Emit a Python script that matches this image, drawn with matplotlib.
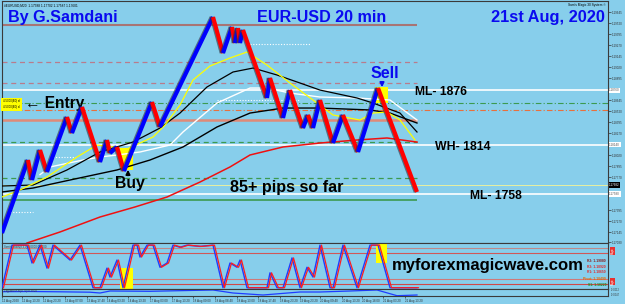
import matplotlib.pyplot as plt
import matplotlib.patheffects as pe
from matplotlib.patches import Rectangle

plt.rcParams['font.family'] = ['Liberation Sans', 'DejaVu Sans']

W, H = 625, 304
BG = '#87CEEB'
TXT_BLUE = '#0A0AF0'

# renko path turning points (bar, price)
zz_bar = [2, 28, 32, 40, 47, 67, 72, 82, 100, 107, 110, 117, 124, 152, 160, 213, 223, 232, 235, 238,
          240, 243, 267, 270, 283, 290, 303, 308, 313, 320, 333, 343, 358, 378, 417]
zz_price = [1.17137, 1.17966, 1.17739, 1.18080, 1.17830, 1.18454, 1.18272, 1.18568, 1.17943, 1.18193,
            1.18045, 1.18114, 1.17841, 1.18624, 1.18341, 1.19589, 1.19180, 1.19476, 1.19294, 1.19464,
            1.19294, 1.19442, 1.18670, 1.18897, 1.18443, 1.18760, 1.18329, 1.18477, 1.18329, 1.18647,
            1.18159, 1.18477, 1.18057, 1.18783, 1.17603]

# moving averages
yellow_bar = [2, 20, 47, 77, 97, 113, 125, 140, 153, 165, 180, 193, 210, 230, 247, 267, 290, 313, 333, 360,
              373, 387, 400, 415]
yellow_price = [1.17546, 1.17626, 1.17773, 1.18000, 1.18136, 1.18114, 1.18080, 1.18159, 1.18227, 1.18363,
                1.18590, 1.18874, 1.19033, 1.19124, 1.19192, 1.19044, 1.18840, 1.18647, 1.18477, 1.18420,
                1.18499, 1.18511, 1.18420, 1.18193]
black_fast_bar = [2, 33, 67, 100, 133, 160, 180, 207, 233, 253, 277, 300, 320, 357, 373, 400, 417]
black_fast_price = [1.17671, 1.17682, 1.17853, 1.18057, 1.18170, 1.18329, 1.18499, 1.18795, 1.18965, 1.19010,
                    1.18931, 1.18840, 1.18760, 1.18670, 1.18613, 1.18499, 1.18284]
black_slow_bar = [2, 33, 70, 117, 150, 183, 217, 250, 283, 320, 370, 390, 417]
black_slow_price = [1.17603, 1.17648, 1.17739, 1.17853, 1.17966, 1.18114, 1.18341, 1.18499, 1.18556, 1.18556,
                    1.18534, 1.18499, 1.18386]
white_bar = [40, 50, 83, 100, 117, 140, 170, 183, 217, 250, 267, 290, 320, 357, 390, 417]
white_price = [1.17800, 1.17887, 1.17966, 1.18000, 1.18023, 1.18057, 1.18136, 1.18284, 1.18613, 1.18783,
               1.18783, 1.18726, 1.18681, 1.18670, 1.18647, 1.18420]
red_bar = [27, 60, 100, 135, 167, 200, 230, 250, 283, 320, 357, 387, 417]
red_price = [1.17024, 1.17149, 1.17319, 1.17433, 1.17546, 1.17716, 1.17887, 1.18023, 1.18114, 1.18159,
             1.18193, 1.18216, 1.18170]

# levels
ml_high, wh_level, ml_low = 1.18760, 1.18140, 1.17580
top_level = 1.19498
rose_levels = [1.19078, 1.18840]
salmon_level = 1.18420
green_dash_levels = [1.18170, 1.17762]
green_solid_level = 1.17512
green_dashdot_level = 1.18613
orange_dashdot_level = 1.18534
bid = 1.17682
last_bar = 417
dotted_segments = [(250, 310, 1.19283), (217, 300, 1.18647), (10, 33, 1.17376), (50, 77, 1.18000)]

# right price scale (ticks hidden behind the level tags are left out)
price_ticks = [1.19645, 1.19520, 1.19395, 1.19270, 1.19145, 1.19020, 1.18895, 1.18645, 1.18520,
               1.18395, 1.18270, 1.18020, 1.17895, 1.17770, 1.17395, 1.17270,
               1.17145, 1.17030]

# stochastic
k_bar = [2, 12, 27, 32, 40, 47, 53, 70, 80, 93, 100, 107, 110, 117, 123, 133, 137, 140, 147, 153,
         160, 167, 173, 180, 187, 200, 213, 223, 230, 237, 240, 247, 267, 270, 277, 283, 292, 300, 307, 313,
         320, 330, 333, 343, 357, 370, 378, 390, 417]
k_val = [0, 100, 100, 58, 100, 46, 100, 65, 100, 0, 0, 46, 25, 65, 0, 100, 100, 72, 100, 100,
         48, 58, 100, 95, 100, 97, 100, 0, 58, 48, 65, 0, 0, 35, 0, 0, 70, 0, 48, 25,
         100, 0, 0, 100, 0, 100, 100, 0, 0]
stoch_levels = [93, 82, 20, 9]
sig_lag = 1.5

# bottom panel
lag_bar = [2, 30, 60, 90, 100, 110, 150, 213, 233, 263, 300, 320, 350, 377, 397, 417]
lag_val = [4.3, 4.5, 4.2, 3.8, 3.0, 5.0, 4.7, 6.0, 3.0, 1.0, 4.0, 4.0, 5.0, 6.0, 0.3, 1.0]

time_pos = [2, 22, 43, 65, 87, 107, 128, 150, 172, 193, 215, 237, 258, 280, 300, 320, 342, 362, 383, 405]
time_labels = ['12 Aug 2020', '12 Aug 13:20', '12 Aug 23:20', '13 Aug 07:00', '13 Aug 17:40',
               '14 Aug 03:20', '14 Aug 13:20', '17 Aug 03:00', '17 Aug 13:20', '18 Aug 00:00',
               '18 Aug 08:40', '18 Aug 13:00', '18 Aug 17:40', '18 Aug 23:20', '19 Aug 23:20',
               '20 Aug 09:40', '20 Aug 13:20', '20 Aug 18:00', '21 Aug 03:20', '21 Aug 13:20']

pivot_labels = ['R3: 1.19080', 'R2: 1.18920', 'R1: 1.18650', 'Pivot: 1.18490', 'S1: 1.18220']
pivot_colors = ['#8B1A1A', '#E02828', '#E02828', '#E06A00', '#1A8A1A']
pivot_rows = [62, 49, 36, 21, 7]


def px_box(x0, y0, x1, y1):
    return [x0 / W, 1 - y1 / H, (x1 - x0) / W, (y1 - y0) / H]


fig = plt.figure(figsize=(W / 100, H / 100), dpi=100, facecolor=BG)
ax = fig.add_axes(px_box(2, 1, 608, 243))
osc = fig.add_axes(px_box(2, 243, 608, 289))
low = fig.add_axes(px_box(2, 289, 608, 296))
for a in (ax, osc, low):
    a.set_facecolor(BG)
    a.set_xlim(2, 608)
    for s in a.spines.values():
        s.set_color('#3a3a3a')
        s.set_linewidth(0.8)
    a.yaxis.tick_right()
    a.tick_params(axis='y', length=2, width=0.5, labelsize=2.2, pad=1, colors='#333333')
    a.tick_params(axis='x', bottom=False, labelbottom=False)

# ---- main panel ----
ax.set_ylim(1.17024, 1.19771)
ax.set_yticks(price_ticks)
ax.set_yticklabels([f'{t:.5f}' for t in price_ticks])

ax.hlines(top_level, 2, last_bar, color='#A87474', lw=1.5, zorder=1)
for lv in rose_levels:
    ax.hlines(lv, 2, last_bar, color='#B87C8C', lw=0.9, ls=(0, (4, 3)), zorder=1)
ax.hlines(salmon_level, 2, last_bar, color='#E08A78', lw=1.8, zorder=1)
for lv in green_dash_levels:
    ax.hlines(lv, 2, last_bar, color='#3C9A50', lw=0.9, ls=(0, (4, 3)), zorder=1)
ax.hlines(green_solid_level, 2, last_bar, color='#3C9A50', lw=1.2, zorder=1)
ax.axhline(green_dashdot_level, color='#3C9A50', lw=0.8, ls=(0, (5, 2, 1, 2)), zorder=1)
ax.axhline(orange_dashdot_level, color='#E8703C', lw=0.8, ls=(0, (5, 2, 1, 2)), zorder=1)
ax.axhline(bid, color='#E8F0A0', lw=0.7, zorder=1)
for lv in (ml_high, wh_level, ml_low):
    ax.axhline(lv, color='white', lw=1.2, zorder=1)
for x0, x1, lv in dotted_segments:
    ax.hlines(lv, x0, x1, color='white', lw=0.8, ls=(0, (1, 1.5)), zorder=1)

# highlight boxes
ax.add_patch(Rectangle((120, 1.17853), 13, 1.18102 - 1.17853, color='#FFFF00', zorder=2, lw=0))
ax.add_patch(Rectangle((375, 1.18613), 13, 1.18795 - 1.18613, color='#FFFF00', zorder=2, lw=0))

ax.plot(red_bar, red_price, color='#F01010', lw=1.1, zorder=3)
ax.plot(white_bar, white_price, color='white', lw=1.0, zorder=3)
ax.plot(black_slow_bar, black_slow_price, color='black', lw=1.0, zorder=3)
ax.plot(black_fast_bar, black_fast_price, color='black', lw=0.9, zorder=3)
ax.plot(yellow_bar, yellow_price, color='#FFFF00', lw=0.9, zorder=3)

shadow = [pe.SimpleLineShadow(offset=(-0.9, 0), shadow_color='#303040', alpha=0.6), pe.Normal()]
for i in range(len(zz_bar) - 1):
    col = '#0000FF' if zz_price[i + 1] > zz_price[i] else '#FF0000'
    ax.plot(zz_bar[i:i + 2], zz_price[i:i + 2], color=col, lw=3.0, solid_capstyle='butt',
            path_effects=shadow, zorder=4)

# texts
ax.text(4, 1.19748, '#EURUSD,M20  1.17588 1.17702 1.17587 1.17601', fontsize=2.3, color='black', va='top')
ax.text(606, 1.19748, "Sam's Magic 30 System \u00a9", fontsize=2.3, color='black', va='top', ha='right')
ax.text(8, 1.19532, 'By G.Samdani', fontsize=11.6, color=TXT_BLUE, weight='bold')
ax.text(257, 1.19532, 'EUR-USD 20 min', fontsize=11.6, color=TXT_BLUE, weight='bold')
ax.text(605, 1.19532, '21st Aug, 2020', fontsize=11.8, color=TXT_BLUE, weight='bold', ha='right')
ax.text(385, 1.18897, 'Sell', fontsize=11.5, color=TXT_BLUE, weight='bold', ha='center')
ax.annotate('', xy=(382, 1.18760), xytext=(382, 1.18880),
            arrowprops=dict(arrowstyle='-|>', color=TXT_BLUE, lw=1.3, mutation_scale=6), zorder=6)
ax.text(415, 1.18704, 'ML- 1876', fontsize=8.7, weight='bold', color='black')
ax.text(435, 1.18080, 'WH- 1814', fontsize=8.8, weight='bold', color='black')
ax.text(470, 1.17523, 'ML- 1758', fontsize=8.7, weight='bold', color='black')
ax.text(230, 1.17603, '85+ pips so far', fontsize=11.6, weight='bold', color='black')
ax.text(115, 1.17648, 'Buy', fontsize=11.3, weight='bold', color='black')
ax.annotate('', xy=(128, 1.17887), xytext=(128, 1.17760),
            arrowprops=dict(arrowstyle='-|>', color='black', lw=1.3, mutation_scale=6), zorder=6)
ax.text(25, 1.18556, '\u2190 Entry', fontsize=11.2, weight='bold', color='black')
ax.text(3, 1.18600, '4.5000(B0) ef\n4.5000(B0) sl', fontsize=2.0, color='black', va='center',
        linespacing=1.6, bbox=dict(fc='#FFFF00', ec='none', pad=1.2))

ytr = ax.get_yaxis_transform()
for lv in (ml_high, wh_level, ml_low):
    ax.text(1.002, lv, f'{lv:.5f}', transform=ytr, fontsize=2.2, color='#555555', va='center',
            bbox=dict(fc='white', ec='none', pad=0.4), clip_on=False)
ax.text(1.002, bid, f'{bid:.5f}', transform=ytr, fontsize=2.2, color='white', va='center',
        bbox=dict(fc='black', ec='none', pad=0.4), clip_on=False)

# ---- oscillator panel ----
osc.set_ylim(-3, 105)
osc.set_yticks([])
for lv, c in zip(stoch_levels, ['#C08888', '#D05858', '#D07878', '#D04848']):
    osc.axhline(lv, color=c, lw=0.8, zorder=1)
osc.add_patch(Rectangle((120, -3), 13, 49, color='#FFFF00', zorder=2, lw=0))
osc.add_patch(Rectangle((376, 58), 11, 45, color='#FFFF00', zorder=2, lw=0))
osc.plot(k_bar, k_val, color='#1E3CFF', lw=1.0, zorder=3)
osc.plot([b + sig_lag for b in k_bar], k_val, color='#FF1E1E', lw=0.9, zorder=4)
osc.text(4, 96, "Sam's Stoch(8,3,3) 0.0000 0.0000", fontsize=2.0, color='#333333', va='center')
osc.text(392, 41.6, 'myforexmagicwave.com', fontsize=12, weight='bold', color='black', zorder=6)
for lab, col, row in zip(pivot_labels, pivot_colors, pivot_rows):
    osc.text(606, row, lab, fontsize=2.4, color=col, ha='right', va='center', weight='bold', zorder=5)
for row in (86, 15):
    osc.text(1.004, row, 'Magic', transform=osc.get_yaxis_transform(), fontsize=1.8, color='white',
             rotation=90, va='center', bbox=dict(fc='#E83030', ec='none', pad=0.3), clip_on=False)

# ---- bottom panel ----
low.set_ylim(0, 7)
low.set_yticks([])
low.plot(lag_bar, lag_val, color='#1E3CFF', lw=0.9)
low.text(4, 4.6, 'Laguerre RSI(0.70) 0.2500', fontsize=2.0, color='#333333', va='center')
low.text(1.004, 3.5, '-0.0012\n-0.0047', transform=low.get_yaxis_transform(), fontsize=1.8,
         color='#333333', va='center', clip_on=False)
low.set_xticks(time_pos)
low.set_xticklabels(time_labels)
low.tick_params(axis='x', bottom=True, labelbottom=True, length=1.5, width=0.5, labelsize=2.2,
                pad=0.8, colors='#333333')
for lab in low.get_xticklabels():
    lab.set_horizontalalignment('left')

fig.savefig('out.png', dpi=100, facecolor=BG)
